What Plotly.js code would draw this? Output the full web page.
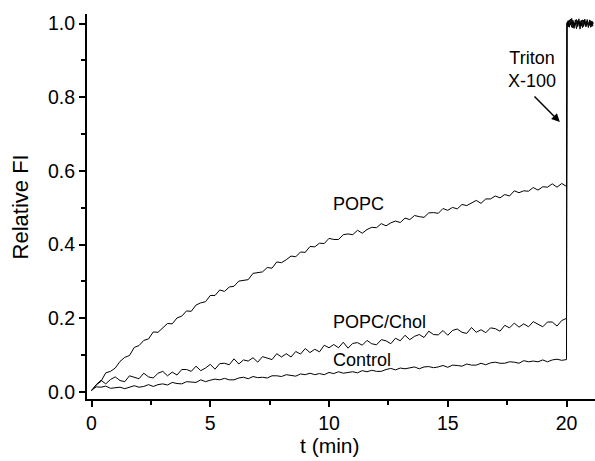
<!DOCTYPE html>
<html>
<head>
<meta charset="utf-8">
<script src="https://cdn.plot.ly/plotly-3.0.1.min.js"></script>
<style>html,body{margin:0;padding:0;background:#fff;}#chart{width:595px;height:461px;}</style>
</head>
<body>
<div id="chart"></div>
<script>
// time (min) before detergent addition
const t = [0,0.2,0.4,0.6,0.8,1.0,1.2,1.4,1.6,1.8,2.0,2.2,2.4,2.6,2.8,3.0,3.2,3.4,3.6,3.8,
4.0,4.2,4.4,4.6,4.8,5.0,5.2,5.4,5.6,5.8,6.0,6.2,6.4,6.6,6.8,7.0,7.2,7.4,7.6,7.8,
8.0,8.2,8.4,8.6,8.8,9.0,9.2,9.4,9.6,9.8,10.0,10.2,10.4,10.6,10.8,11.0,11.2,11.4,11.6,11.8,
12.0,12.2,12.4,12.6,12.8,13.0,13.2,13.4,13.6,13.8,14.0,14.2,14.4,14.6,14.8,15.0,15.2,15.4,15.6,15.8,
16.0,16.2,16.4,16.6,16.8,17.0,17.2,17.4,17.6,17.8,18.0,18.2,18.4,18.6,18.8,19.0,19.2,19.4,19.6,19.8,20.0];

const popc = [0.003,0.019,0.029,0.052,0.056,0.065,0.083,0.094,0.099,0.121,0.126,0.140,0.144,0.163,0.162,0.173,0.186,0.185,0.201,0.206,
0.220,0.219,0.236,0.242,0.245,0.262,0.262,0.277,0.273,0.285,0.287,0.301,0.303,0.305,0.322,0.325,0.326,0.338,0.336,0.353,
0.351,0.359,0.369,0.367,0.380,0.379,0.395,0.394,0.404,0.403,0.417,0.414,0.414,0.427,0.429,0.427,0.439,0.431,0.441,0.447,
0.446,0.457,0.451,0.459,0.464,0.460,0.472,0.468,0.479,0.476,0.474,0.486,0.487,0.485,0.498,0.493,0.501,0.497,0.509,0.506,
0.513,0.520,0.512,0.524,0.524,0.532,0.527,0.536,0.532,0.546,0.541,0.546,0.545,0.555,0.548,0.557,0.556,0.565,0.556,0.566,0.558];

const popcChol = [0.004,0.020,0.032,0.022,0.034,0.041,0.031,0.028,0.044,0.040,0.036,0.051,0.041,0.038,0.051,0.056,0.044,0.054,0.046,0.061,
0.061,0.056,0.070,0.058,0.065,0.075,0.062,0.077,0.078,0.074,0.090,0.076,0.087,0.084,0.093,0.081,0.096,0.092,0.088,0.104,
0.095,0.104,0.095,0.110,0.103,0.118,0.107,0.116,0.109,0.127,0.120,0.129,0.120,0.135,0.119,0.132,0.134,0.127,0.140,0.131,
0.128,0.142,0.139,0.131,0.146,0.139,0.154,0.142,0.151,0.156,0.148,0.165,0.156,0.155,0.167,0.154,0.167,0.171,0.162,0.159,
0.175,0.162,0.169,0.161,0.174,0.172,0.165,0.181,0.174,0.187,0.176,0.185,0.177,0.191,0.183,0.177,0.190,0.190,0.179,0.194,0.200];

const control = [0.005,0.014,0.013,0.016,0.010,0.011,0.013,0.009,0.014,0.017,0.013,0.015,0.020,0.015,0.020,0.022,0.019,0.026,0.023,0.022,
0.028,0.028,0.026,0.033,0.028,0.032,0.035,0.033,0.037,0.033,0.033,0.038,0.040,0.036,0.042,0.039,0.040,0.038,0.044,0.044,
0.042,0.047,0.044,0.043,0.049,0.047,0.051,0.047,0.050,0.047,0.053,0.050,0.055,0.051,0.053,0.055,0.052,0.058,0.055,0.059,
0.056,0.056,0.061,0.064,0.060,0.065,0.063,0.065,0.068,0.063,0.068,0.069,0.066,0.068,0.072,0.067,0.073,0.072,0.070,0.076,
0.073,0.073,0.078,0.074,0.079,0.081,0.078,0.078,0.082,0.081,0.078,0.085,0.082,0.084,0.082,0.087,0.082,0.087,0.089,0.086,0.088];

// after Triton X-100 addition
const tAfter = [20.02,20.07,20.12,20.17,20.22,20.27,20.32,20.37,20.42,20.47,20.52,20.57,20.62,20.67,20.72,20.77,20.82,20.87,20.92,20.97,21.02,21.07,21.12];
const popcAfter = [0.995,1.008,0.990,1.012,0.998,1.005,0.987,1.010,1.000,0.992,1.013,0.996,1.006,0.989,1.009,1.001,0.994,1.011,0.997,1.004,0.990,1.007,0.999];
const popcCholAfter = [1.003,0.991,1.010,0.996,1.014,0.988,1.002,0.997,1.011,0.993,1.006,0.985,1.009,1.000,0.992,1.012,0.998,1.005,0.989,1.010,0.996,1.003,0.994];
const controlAfter = [0.998,1.006,0.993,1.004,0.990,1.009,0.997,1.002,0.986,1.008,0.999,1.005,0.994,1.010,0.996,1.003,0.991,1.007,1.000,0.995,1.008,0.992,1.004];

const xTicks = [0,5,10,15,20];
const xMinor = [2.5,7.5,12.5,17.5];
const yTicks = [0,0.2,0.4,0.6,0.8,1.0];
const yMinor = [0.1,0.3,0.5,0.7,0.9];

const FONT = '"Liberation Sans", Arial, Helvetica, sans-serif';
const line = {color:'#000', width:1};

const traces = [
  {x:t.concat(tAfter), y:control.concat(controlAfter), mode:'lines', line:line, name:'Control', hoverinfo:'skip'},
  {x:t.concat(tAfter), y:popcChol.concat(popcCholAfter), mode:'lines', line:line, name:'POPC/Chol', hoverinfo:'skip'},
  {x:t.concat(tAfter), y:popc.concat(popcAfter), mode:'lines', line:line, name:'POPC', hoverinfo:'skip'}
];

const axisCommon = {
  showline:true, linecolor:'#000', linewidth:2, mirror:false,
  showgrid:false, zeroline:false,
  ticks:'outside', ticklen:6, tickwidth:2, tickcolor:'#000',
  tickfont:{family:FONT, size:19.5, color:'#000'}
};

const layout = {
  width:595, height:461,
  margin:{l:87, r:0, t:14, b:62},
  paper_bgcolor:'#fff', plot_bgcolor:'#fff',
  showlegend:false,
  font:{family:FONT, color:'#000'},
  xaxis:Object.assign({}, axisCommon, {
    range:[-0.19, 21.2], tickmode:'array', tickvals:xTicks,
    minor:{tickmode:'array', tickvals:xMinor, ticks:'outside', ticklen:4, tickwidth:2, tickcolor:'#000', showgrid:false}
  }),
  yaxis:Object.assign({}, axisCommon, {
    range:[-0.019, 1.026], tickmode:'array', tickvals:yTicks, tickformat:'.1f',
    minor:{tickmode:'array', tickvals:yMinor, ticks:'outside', ticklen:4, tickwidth:2, tickcolor:'#000', showgrid:false}
  }),
  annotations:[
    {xref:'paper', yref:'paper', x:0.478, y:-0.086, xanchor:'center', yanchor:'top', text:'t (min)', showarrow:false, font:{family:FONT, size:21, color:'#000'}},
    {xref:'paper', yref:'paper', x:-0.13, y:0.5, xanchor:'center', yanchor:'middle', textangle:-90, text:'Relative FI', showarrow:false, font:{family:FONT, size:22, color:'#000'}},
    {xref:'x', yref:'y', x:10.08, y:0.51, xanchor:'left', yanchor:'middle', text:'POPC', showarrow:false, font:{family:FONT, size:18, color:'#000'}},
    {xref:'x', yref:'y', x:10.08, y:0.19, xanchor:'left', yanchor:'middle', text:'POPC/Chol', showarrow:false, font:{family:FONT, size:18, color:'#000'}},
    {xref:'x', yref:'y', x:10.08, y:0.088, xanchor:'left', yanchor:'middle', text:'Control', showarrow:false, font:{family:FONT, size:18, color:'#000'}},
    {xref:'x', yref:'y', x:18.55, y:0.875, xanchor:'center', yanchor:'middle', text:'Triton<br>X-100', showarrow:false, font:{family:FONT, size:18, color:'#000'}},
    {xref:'x', yref:'y', axref:'x', ayref:'y', x:19.72, y:0.733, ax:18.59, ay:0.806, text:'', showarrow:true, arrowhead:2, arrowsize:1.1, arrowwidth:1.5, arrowcolor:'#000', standoff:0, startstandoff:0}
  ]
};

Plotly.newPlot('chart', traces, layout, {staticPlot:true, displayModeBar:false});
</script>
</body>
</html>
